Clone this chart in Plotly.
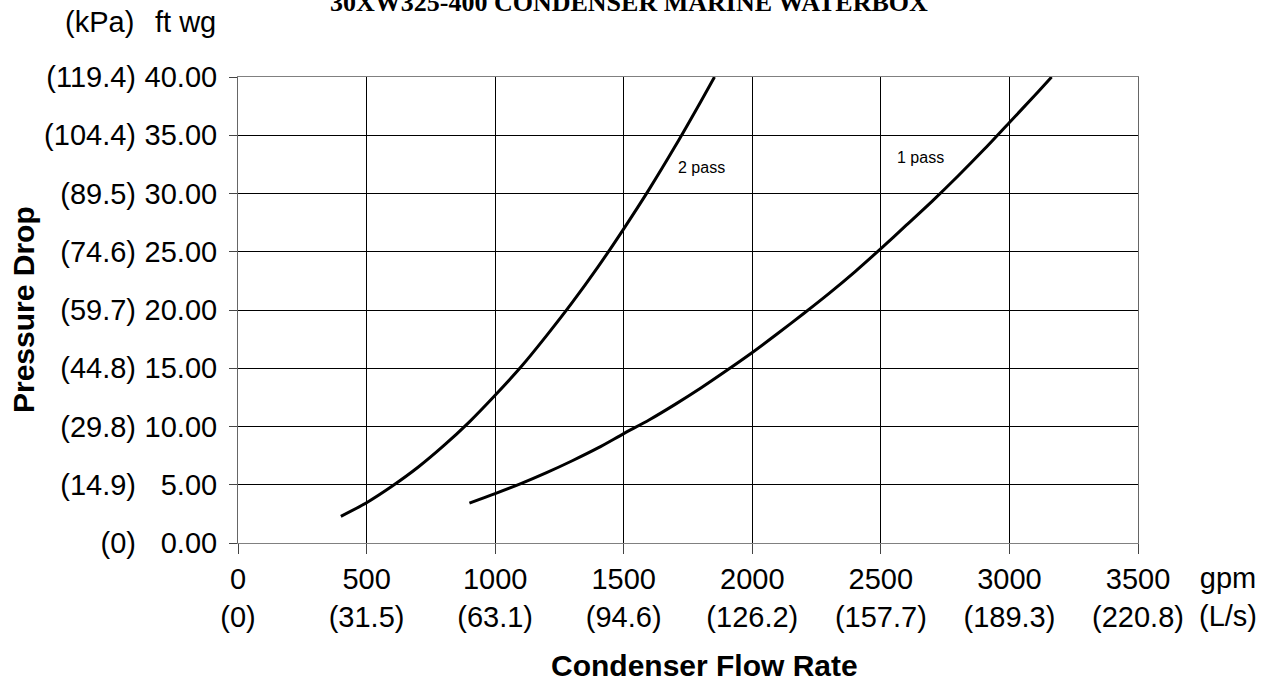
import plotly.graph_objects as go

# ---- data ----
two_pass_gpm = [400, 500, 600, 700, 800, 900, 1000, 1100, 1200, 1300, 1400, 1500,
                1600, 1700, 1800, 1853]
two_pass_ftwg = [2.29, 3.46, 4.89, 6.5, 8.35, 10.4, 12.68, 15.1, 17.8, 20.65, 23.7, 26.97,
                 30.4, 34.05, 37.9, 40.0]

one_pass_gpm = [900, 1000, 1100, 1200, 1300, 1400, 1500, 1600, 1700, 1800, 1900, 2000,
                2100, 2200, 2300, 2400, 2500, 2600, 2700, 2800, 2900, 3000, 3100, 3164]
one_pass_ftwg = [3.43, 4.24, 5.1, 6.04, 7.06, 8.16, 9.39, 10.58, 11.9, 13.3, 14.8, 16.35,
                 18.0, 19.7, 21.45, 23.3, 25.27, 27.3, 29.35, 31.5, 33.75, 36.1, 38.45, 40.0]

x_tick_vals = [0, 500, 1000, 1500, 2000, 2500, 3000, 3500]
x_tick_gpm = ["0", "500", "1000", "1500", "2000", "2500", "3000", "3500"]
x_tick_ls = ["(0)", "(31.5)", "(63.1)", "(94.6)", "(126.2)", "(157.7)", "(189.3)", "(220.8)"]

y_tick_vals = [0, 5, 10, 15, 20, 25, 30, 35, 40]
y_tick_ftwg = ["0.00", "5.00", "10.00", "15.00", "20.00", "25.00", "30.00", "35.00", "40.00"]
y_tick_kpa = ["(0)", "(14.9)", "(29.8)", "(44.8)", "(59.7)", "(74.6)", "(89.5)", "(104.4)", "(119.4)"]

curve_labels = ["2 pass", "1 pass"]
label_pos = [(1802, 32.25), (2653, 33.13)]

title_text = "30XW325-400 CONDENSER MARINE WATERBOX"

W, H = 1272, 681
ML, MR, MT, MB = 238, 134, 77, 138
PW = W - ML - MR
PH = H - MT - MB


def px_x(p):
    return (p - ML) / PW


def px_y(p):
    return (H - MB - p) / PH


FONT = "Liberation Sans, Arial, sans-serif"

fig = go.Figure()
fig.add_trace(go.Scatter(x=two_pass_gpm, y=two_pass_ftwg, mode="lines",
                         line=dict(color="black", width=3, shape="spline", smoothing=0.8),
                         showlegend=False, hoverinfo="skip"))
fig.add_trace(go.Scatter(x=one_pass_gpm, y=one_pass_ftwg, mode="lines",
                         line=dict(color="black", width=3, shape="spline", smoothing=0.8),
                         showlegend=False, hoverinfo="skip"))
# invisible trace for secondary (kPa) axis
fig.add_trace(go.Scatter(x=[None], y=[None], yaxis="y2", showlegend=False,
                         hoverinfo="skip"))

x_ticktext = [f"{a}<br>{b}" for a, b in zip(x_tick_gpm, x_tick_ls)]

fig.update_layout(
    width=W, height=H,
    margin=dict(l=ML, r=MR, t=MT, b=MB, pad=0, autoexpand=False),
    paper_bgcolor="white", plot_bgcolor="white",
    font=dict(family=FONT, size=29, color="black"),
    xaxis=dict(range=[0, 3500], tickmode="array", tickvals=x_tick_vals,
               ticktext=x_ticktext, showgrid=True, gridcolor="black", gridwidth=1,
               zeroline=False, showline=True, linecolor="#808080", linewidth=1,
               mirror=True, ticks="outside", ticklen=10, tickcolor="#444444",
               tickfont=dict(size=29, family=FONT, color="black")),
    yaxis=dict(range=[0, 40], tickmode="array", tickvals=y_tick_vals,
               ticktext=y_tick_ftwg, showgrid=True, gridcolor="black", gridwidth=1,
               zeroline=False, showline=True, linecolor="#666666", linewidth=1,
               mirror=True, ticks="outside", ticklen=8, tickcolor="#444444",
               tickfont=dict(size=29, family=FONT, color="black"),
               ticklabelstandoff=6),
    yaxis2=dict(range=[0, 40], overlaying="y", side="left", anchor="x",
                tickmode="array", tickvals=y_tick_vals, ticktext=y_tick_kpa,
                showgrid=False, zeroline=False, showline=False, ticks="",
                tickfont=dict(size=29, family=FONT, color="black"),
                ticklabelstandoff=101),
)

annotations = []
for txt, (lx, ly) in zip(curve_labels, label_pos):
    annotations.append(dict(x=lx, y=ly, xref="x", yref="y", text=txt, showarrow=False,
                            font=dict(size=16, family=FONT, color="black"),
                            xanchor="center", yanchor="middle"))
annotations += [
    dict(x=px_x(629), y=px_y(19), xref="paper", yref="paper", text=f"<b>{title_text}</b>",
         showarrow=False, xanchor="center", yanchor="bottom",
         font=dict(size=26, family="Liberation Serif, Times New Roman, serif", color="black")),
    dict(x=px_x(136), y=px_y(40), xref="paper", yref="paper", text="(kPa)",
         showarrow=False, xanchor="right", yanchor="bottom", font=dict(size=29, family=FONT)),
    dict(x=px_x(218), y=px_y(40), xref="paper", yref="paper", text="ft wg",
         showarrow=False, xanchor="right", yanchor="bottom", font=dict(size=29, family=FONT)),
    dict(x=px_x(1228), y=px_y(560), xref="paper", yref="paper", text="gpm<br>(L/s)",
         showarrow=False, xanchor="center", yanchor="top", font=dict(size=29, family=FONT)),
    dict(x=px_x(704), y=px_y(684), xref="paper", yref="paper", text="<b>Condenser Flow Rate</b>",
         showarrow=False, xanchor="center", yanchor="bottom", font=dict(size=30, family=FONT)),
    dict(x=px_x(23), y=0.5, xref="paper", yref="paper", text="<b>Pressure Drop</b>",
         showarrow=False, xanchor="center", yanchor="middle", textangle=-90,
         font=dict(size=30, family=FONT)),
]
fig.update_layout(annotations=annotations)

fig.write_html("out.html", config={"displayModeBar": False},
               post_script="document.body.style.margin='0';document.body.style.overflow='hidden';")
